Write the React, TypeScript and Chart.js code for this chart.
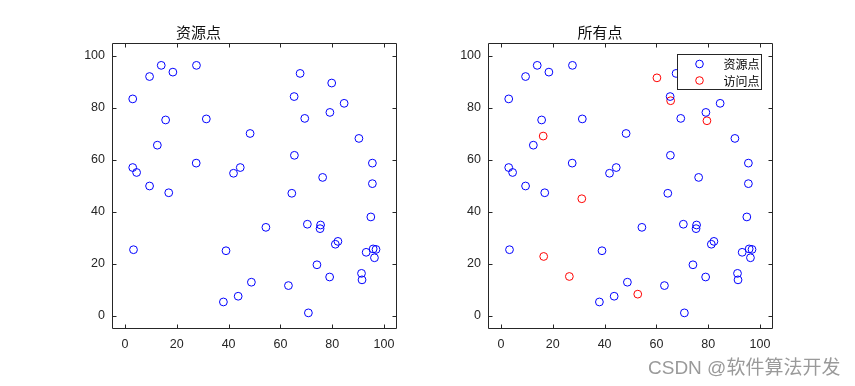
import React, { useEffect, useRef } from "react";
import { Chart, registerables } from "chart.js";

Chart.register(...registerables);

// ---- data ----
const RESOURCE_X = [
  9.5, 14.0, 18.5, 27.6, 3.0, 15.7, 31.4, 12.5, 48.3, 3.0,
  4.5, 27.5, 41.9, 44.5, 9.5, 16.9, 67.6, 65.3, 79.8, 84.6,
  79.1, 69.4, 90.3, 65.4, 95.5, 76.3, 95.5, 64.4, 94.9, 54.4,
  70.4, 75.5, 75.3, 82.2, 81.2, 3.3, 39.0, 93.1, 95.8, 96.9,
  96.3, 74.1, 79.0, 91.3, 91.5, 48.8, 63.1, 43.7, 38.0, 70.8,
];
const RESOURCE_Y = [
  92.1, 96.4, 93.8, 96.4, 83.5, 75.4, 75.8, 65.7, 70.2, 57.1,
  55.2, 58.8, 54.9, 57.1, 50.0, 47.4, 93.3, 84.4, 89.6, 81.8,
  78.3, 76.0, 68.3, 61.8, 58.8, 53.3, 50.9, 47.2, 38.1, 34.1,
  35.3, 35.0, 33.6, 28.7, 27.6, 25.5, 25.1, 24.5, 25.8, 25.6,
  22.4, 19.7, 15.0, 16.4, 13.9, 13.0, 11.7, 7.6, 5.4, 1.2,
];
const VISIT_X = [60.2, 65.5, 79.5, 16.3, 31.2, 16.5, 26.4, 52.8];
const VISIT_Y = [91.6, 82.8, 75.1, 69.2, 45.1, 22.9, 15.2, 8.4];

const TICKS = [0, 20, 40, 60, 80, 100];
const AXIS_MIN = -5;
const AXIS_MAX = 105;
const TITLES = ["资源点", "所有点"];
const LEGEND_LABELS = ["资源点", "访问点"];
const WATERMARK = "CSDN @软件算法开发";

const BLUE = "#0000ff";
const RED = "#ff0000";
const AXIS_COLOR = "#262626";
const CJK_FONT = '"Noto Sans CJK SC", sans-serif';
const NUM_FONT = '"Liberation Sans", Arial, sans-serif';

const toPoints = (xs: number[], ys: number[]) => xs.map((x, i) => ({ x, y: ys[i] }));

const boxPlugin = {
  id: "matlabBox",
  afterDraw(chart: any) {
    const { ctx, chartArea: a, scales } = chart;
    const L = Math.round(a.left) + 0.5;
    const R = Math.round(a.right) - 0.5;
    const T = Math.round(a.top) + 0.5;
    const B = Math.round(a.bottom) - 0.5;
    const tl = 4;
    ctx.save();
    ctx.strokeStyle = AXIS_COLOR;
    ctx.lineWidth = 1;
    ctx.beginPath();
    ctx.rect(L, T, R - L, B - T);
    for (const v of TICKS) {
      const x = Math.round(scales.x.getPixelForValue(v)) + 0.5;
      ctx.moveTo(x, B);
      ctx.lineTo(x, B - tl);
      ctx.moveTo(x, T);
      ctx.lineTo(x, T + tl);
      const y = Math.round(scales.y.getPixelForValue(v)) + 0.5;
      ctx.moveTo(L, y);
      ctx.lineTo(L + tl, y);
      ctx.moveTo(R, y);
      ctx.lineTo(R - tl, y);
    }
    ctx.stroke();
    ctx.restore();
  },
};

const legendPlugin = {
  id: "innerLegend",
  afterDraw(chart: any) {
    const { ctx, chartArea: a } = chart;
    const w = 85;
    const h = 36;
    const right = Math.round(a.right) - 11;
    const left = right - w;
    const top = Math.round(a.top) + 11;
    ctx.save();
    ctx.fillStyle = "#ffffff";
    ctx.fillRect(left, top, w, h);
    ctx.strokeStyle = AXIS_COLOR;
    ctx.lineWidth = 1;
    ctx.strokeRect(left + 0.5, top + 0.5, w - 1, h - 1);
    const colors = [BLUE, RED];
    const rows = [top + 10, top + 26.5];
    ctx.font = `12px ${CJK_FONT}`;
    ctx.textBaseline = "middle";
    ctx.textAlign = "left";
    LEGEND_LABELS.forEach((lab, i) => {
      ctx.beginPath();
      ctx.strokeStyle = colors[i];
      ctx.arc(left + 22.5, rows[i], 3.8, 0, Math.PI * 2);
      ctx.stroke();
      ctx.fillStyle = "#000000";
      ctx.fillText(lab, left + 46.5, rows[i] + 0.5);
    });
    ctx.restore();
  },
};

function scaleOpts(kind: "x" | "y", fit: number) {
  return {
    type: "linear" as const,
    min: AXIS_MIN,
    max: AXIS_MAX,
    grid: { display: false, drawTicks: false },
    border: { display: false },
    ticks: {
      padding: kind === "x" ? 8 : 7,
      color: AXIS_COLOR,
      font: { family: NUM_FONT, size: 12.5 },
      autoSkip: false,
      maxRotation: 0,
    },
    afterBuildTicks: (s: any) => {
      s.ticks = TICKS.map((v) => ({ value: v }));
    },
    afterFit: (s: any) => {
      if (kind === "x") s.height = fit;
      else s.width = fit;
    },
  };
}

function dataset(label: string, xs: number[], ys: number[], color: string) {
  return {
    label,
    data: toPoints(xs, ys),
    pointStyle: "circle",
    pointRadius: 3.9,
    pointHoverRadius: 3.9,
    borderWidth: 1,
    pointBorderWidth: 1,
    borderColor: color,
    pointBorderColor: color,
    backgroundColor: "rgba(0,0,0,0)",
    pointBackgroundColor: "rgba(0,0,0,0)",
    showLine: false,
  };
}

type PanelProps = {
  left: number;
  width: number;
  yWidth: number;
  padRight: number;
  title: string;
  withVisits: boolean;
};

function Panel({ left, width, yWidth, padRight, title, withVisits }: PanelProps) {
  const ref = useRef<HTMLCanvasElement | null>(null);
  useEffect(() => {
    if (!ref.current) return;
    const datasets: any[] = [dataset(LEGEND_LABELS[0], RESOURCE_X, RESOURCE_Y, BLUE)];
    if (withVisits) datasets.push(dataset(LEGEND_LABELS[1], VISIT_X, VISIT_Y, RED));
    const chart = new Chart(ref.current, {
      type: "scatter",
      data: { datasets },
      options: {
        responsive: false,
        animation: false,
        devicePixelRatio: 1,
        layout: { padding: { left: 0, right: padRight, top: 0, bottom: 0 } },
        plugins: {
          legend: { display: false },
          tooltip: { enabled: false },
          title: {
            display: true,
            text: title,
            color: "#111111",
            font: { family: CJK_FONT, size: 15, weight: "normal" as any, lineHeight: 1.2 },
            padding: { top: 23, bottom: 2 },
          },
        },
        scales: {
          x: scaleOpts("x", 57) as any,
          y: scaleOpts("y", yWidth) as any,
        },
      },
      plugins: withVisits ? [boxPlugin, legendPlugin] : [boxPlugin],
    });
    return () => chart.destroy();
  }, []);
  return (
    <canvas
      ref={ref}
      width={width}
      height={386}
      style={{ position: "absolute", left, top: 0, width, height: 386 }}
    />
  );
}

export default function App() {
  return (
    <div
      style={{
        position: "fixed",
        left: 0,
        top: 0,
        width: 855,
        height: 386,
        background: "#ffffff",
        overflow: "hidden",
      }}
    >
      <Panel left={0} width={427} yWidth={112} padRight={30} title={TITLES[0]} withVisits={false} />
      <Panel left={427} width={428} yWidth={61} padRight={82} title={TITLES[1]} withVisits={true} />
      <div
        style={{
          position: "absolute",
          left: 648,
          top: 357,
          fontFamily: '"Liberation Sans", "Noto Sans CJK SC", sans-serif',
          fontSize: 19,
          lineHeight: "22px",
          color: "#9a9a9a",
          whiteSpace: "nowrap",
        }}
      >
        {WATERMARK}
      </div>
    </div>
  );
}
